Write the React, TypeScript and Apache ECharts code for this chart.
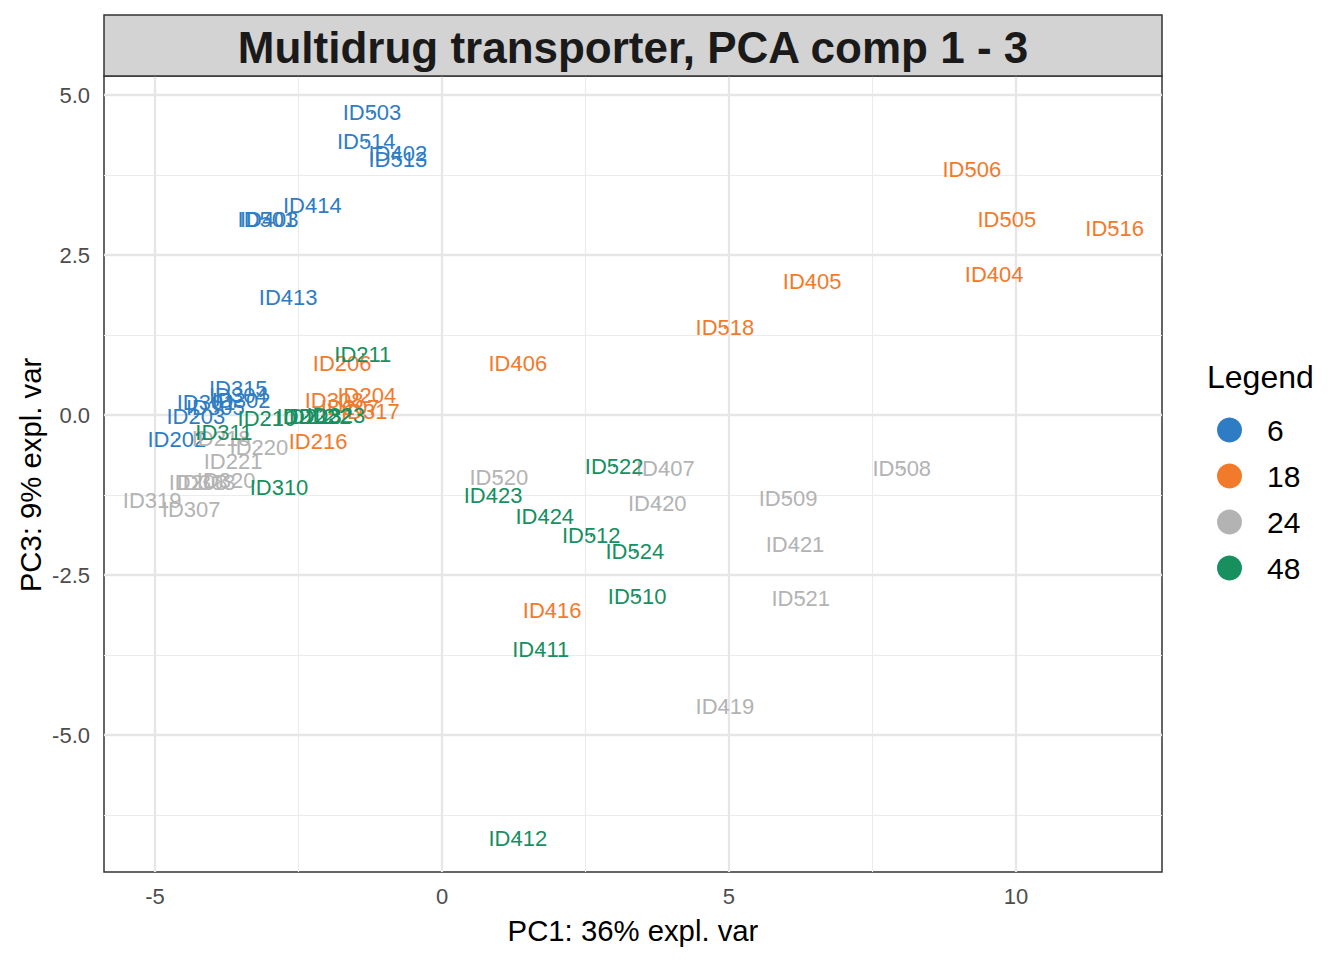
import React, { useEffect, useRef } from "react";
import * as echarts from "echarts";

const groups = ["6", "18", "24", "48"];
const colors = ["#2E7DC4", "#F27A2B", "#B3B3B3", "#178F5F"];

const names6 = ["ID503", "ID514", "ID402", "ID513", "ID414", "ID403", "ID501", "ID413", "ID315", "ID304", "ID302", "ID301", "ID305", "ID203", "ID202"];
const x6 = [-1.22, -1.32, -0.77, -0.77, -2.26, -3.01, -3.05, -2.68, -3.55, -3.55, -3.5, -4.11, -3.95, -4.29, -4.62];
const y6 = [4.72, 4.27, 4.09, 4.0, 3.28, 3.05, 3.05, 1.84, 0.41, 0.3, 0.22, 0.19, 0.11, -0.03, -0.38];

const names18 = ["ID506", "ID505", "ID516", "ID405", "ID404", "ID518", "ID406", "ID206", "ID204", "ID308", "ID207", "ID317", "ID216", "ID416"];
const x18 = [9.23, 9.84, 11.72, 6.45, 9.62, 4.93, 1.32, -1.74, -1.31, -1.88, -1.6, -1.25, -2.16, 1.92];
const y18 = [3.84, 3.06, 2.92, 2.08, 2.2, 1.36, 0.81, 0.8, 0.31, 0.22, 0.11, 0.06, -0.42, -3.06];

const names24 = ["ID520", "ID407", "ID420", "ID508", "ID509", "ID421", "ID521", "ID419", "ID218", "ID220", "ID221", "ID208", "ID303", "ID320", "ID319", "ID307"];
const x24 = [0.99, 3.89, 3.75, 8.01, 6.03, 6.15, 6.25, 4.93, -3.85, -3.19, -3.64, -4.25, -4.11, -3.76, -5.05, -4.37];
const y24 = [-0.98, -0.84, -1.39, -0.84, -1.3, -2.02, -2.86, -4.56, -0.36, -0.5, -0.73, -1.05, -1.05, -1.03, -1.33, -1.47];

const names48 = ["ID211", "ID210", "ID212", "ID213", "ID222", "ID323", "ID311", "ID310", "ID522", "ID423", "ID424", "ID512", "ID524", "ID510", "ID411", "ID412"];
const x48 = [-1.38, -3.05, -2.37, -2.26, -2.09, -1.85, -3.8, -2.84, 3.0, 0.89, 1.79, 2.6, 3.36, 3.4, 1.72, 1.32];
const y48 = [0.95, -0.05, -0.03, -0.02, -0.02, 0.0, -0.27, -1.14, -0.8, -1.25, -1.58, -1.89, -2.14, -2.84, -3.67, -6.61];

const xTicks = [-5, 0, 5, 10];
const xMinor = [-2.5, 2.5, 7.5];
const yTicks = [-5, -2.5, 0, 2.5, 5];
const yMinor = [-6.25, -3.75, -1.25, 1.25, 3.75];

const X_MIN = -5.889;
const X_MAX = 12.544;
const Y_MIN = -7.14;
const Y_MAX = 5.297;

const FONT = "'Liberation Sans', Arial, Helvetica, sans-serif";

function mk(names: string[], xs: number[], ys: number[]) {
  return names.map((n, i) => ({ name: n, value: [xs[i], ys[i]] }));
}

export default function App() {
  const ref = useRef<HTMLDivElement>(null);
  useEffect(() => {
    if (!ref.current) return;
    const chart = echarts.init(ref.current, undefined, { renderer: "svg" });
    const sets = [
      mk(names6, x6, y6),
      mk(names18, x18, y18),
      mk(names24, x24, y24),
      mk(names48, x48, y48),
    ];
    const gridSeries = {
      type: "scatter",
      name: "grid",
      data: [],
      silent: true,
      z: 1,
      markLine: {
        silent: true,
        symbol: ["none", "none"],
        label: { show: false },
        animation: false,
        data: [
          ...xMinor.map((v) => ({ xAxis: v, lineStyle: { color: "#EBEBEB", width: 1.1, type: "solid" } })),
          ...yMinor.map((v) => ({ yAxis: v, lineStyle: { color: "#EBEBEB", width: 1.1, type: "solid" } })),
          ...xTicks.map((v) => ({ xAxis: v, lineStyle: { color: "#E6E6E6", width: 2.3, type: "solid" } })),
          ...yTicks.map((v) => ({ yAxis: v, lineStyle: { color: "#E6E6E6", width: 2.3, type: "solid" } })),
        ],
      },
    };
    const option = {
      animation: false,
      backgroundColor: "#FFFFFF",
      grid: {
        left: 104,
        top: 76,
        width: 1058,
        height: 796,
        show: true,
        borderColor: "#333333",
        borderWidth: 1.5,
        backgroundColor: "transparent",
        containLabel: false,
      },
      xAxis: {
        type: "value",
        min: X_MIN,
        max: X_MAX,
        axisLine: { show: false },
        splitLine: { show: false },
        axisTick: { show: true, customValues: xTicks, length: 6, lineStyle: { color: "#333333", width: 1.5 } },
        axisLabel: {
          customValues: xTicks,
          color: "#4D4D4D",
          fontSize: 22,
          fontFamily: FONT,
          margin: 13,
          formatter: (v: number) => String(v),
        },
      },
      yAxis: {
        type: "value",
        min: Y_MIN,
        max: Y_MAX,
        axisLine: { show: false },
        splitLine: { show: false },
        axisTick: { show: true, customValues: yTicks, length: 6, lineStyle: { color: "#333333", width: 1.5 } },
        axisLabel: {
          customValues: yTicks,
          color: "#4D4D4D",
          fontSize: 22,
          fontFamily: FONT,
          margin: 14,
          formatter: (v: number) => v.toFixed(1),
        },
      },
      legend: {
        data: groups,
        orient: "vertical",
        left: 1212,
        top: 410,
        icon: "circle",
        itemWidth: 25,
        itemHeight: 25,
        itemGap: 16,
        itemStyle: { opacity: 1 },
        textStyle: { fontSize: 30, color: "#000000", fontFamily: FONT, padding: [0, 0, 0, 20] },
      },
      graphic: [
        {
          type: "rect",
          shape: { x: 104, y: 15, width: 1058, height: 61 },
          style: { fill: "#D3D3D3", stroke: "#333333", lineWidth: 1.5 },
          z: 10,
        },
        {
          type: "text",
          x: 633,
          y: 47,
          style: {
            text: "Multidrug transporter, PCA comp 1 - 3",
            fontSize: 44,
            fontWeight: "bold",
            fontFamily: FONT,
            fill: "#1A1A1A",
            align: "center",
            verticalAlign: "middle",
          },
          z: 11,
        },
        {
          type: "text",
          x: 633,
          y: 930,
          style: {
            text: "PC1: 36% expl. var",
            fontSize: 29.3,
            fontFamily: FONT,
            fill: "#000000",
            align: "center",
            verticalAlign: "middle",
          },
        },
        {
          type: "text",
          x: 30,
          y: 475,
          rotation: Math.PI / 2,
          style: {
            text: "PC3: 9% expl. var",
            fontSize: 29.3,
            fontFamily: FONT,
            fill: "#000000",
            align: "center",
            verticalAlign: "middle",
          },
        },
        {
          type: "text",
          x: 1207,
          y: 377,
          style: {
            text: "Legend",
            fontSize: 32,
            fontFamily: FONT,
            fill: "#000000",
            align: "left",
            verticalAlign: "middle",
          },
        },
      ],
      series: [
        gridSeries,
        ...groups.map((g, i) => ({
          type: "scatter",
          name: g,
          data: sets[i],
          symbol: "circle",
          symbolSize: 2,
          itemStyle: { color: colors[i], opacity: 1 },
          z: 5,
          label: {
            show: true,
            position: "inside",
            formatter: "{b}",
            color: colors[i],
            fontSize: 22,
            fontFamily: FONT,
          },
          emphasis: { disabled: true },
        })),
      ],
    };
    chart.setOption(option as any);
    return () => chart.dispose();
  }, []);
  return (
    <div
      ref={ref}
      style={{ position: "fixed", left: 0, top: 0, width: 1344, height: 960 }}
    />
  );
}
